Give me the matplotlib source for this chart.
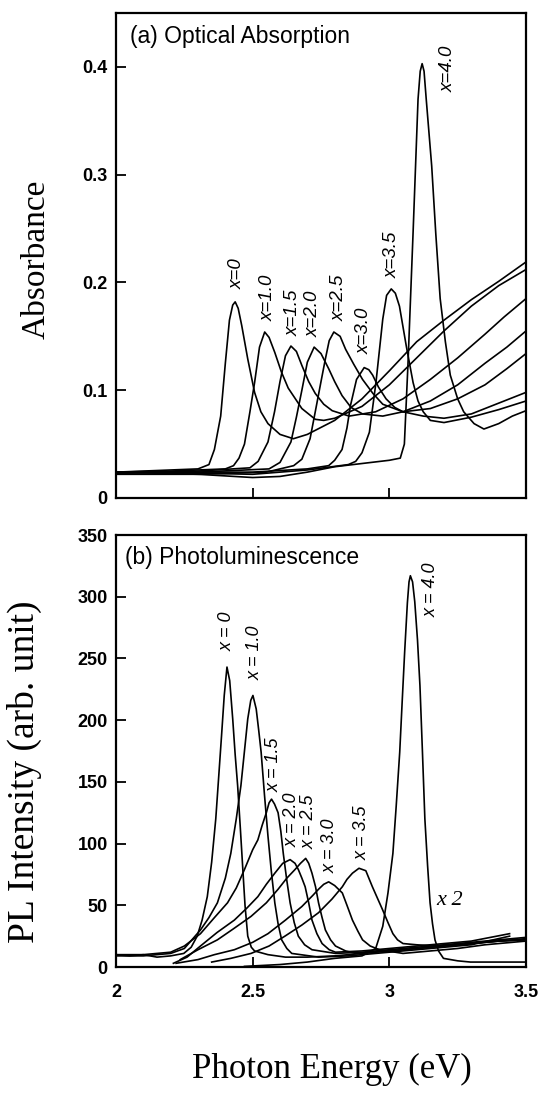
import matplotlib
matplotlib.use("Agg")
import matplotlib.pyplot as plt
from matplotlib.ticker import FuncFormatter

plt.rcParams['font.family'] = ['Liberation Sans', 'DejaVu Sans']

# ---- (a) optical absorption: (energy eV, absorbance) ----
abs_x0 = [(2.00, 0.024), (2.10, 0.025), (2.20, 0.026), (2.30, 0.027), (2.34, 0.031), (2.36, 0.045),
          (2.383, 0.076), (2.40, 0.125), (2.415, 0.165), (2.427, 0.179), (2.436, 0.182), (2.447, 0.176),
          (2.46, 0.160), (2.482, 0.129), (2.507, 0.098), (2.53, 0.080), (2.556, 0.069), (2.60, 0.059),
          (2.649, 0.055), (2.70, 0.059), (2.80, 0.072), (2.90, 0.092), (3.00, 0.118), (3.10, 0.145),
          (3.20, 0.165), (3.30, 0.184), (3.40, 0.201), (3.50, 0.219)]
abs_x10 = [(2.00, 0.024), (2.20, 0.025), (2.40, 0.027), (2.43, 0.030), (2.45, 0.037), (2.47, 0.050),
           (2.49, 0.080), (2.507, 0.107), (2.525, 0.140), (2.544, 0.154), (2.56, 0.149), (2.581, 0.135),
           (2.605, 0.117), (2.63, 0.102), (2.68, 0.083), (2.729, 0.073), (2.76, 0.072), (2.80, 0.074),
           (2.90, 0.085), (3.00, 0.105), (3.10, 0.130), (3.20, 0.155), (3.30, 0.178), (3.40, 0.197),
           (3.50, 0.212)]
abs_x15 = [(2.00, 0.023), (2.30, 0.025), (2.49, 0.028), (2.52, 0.034), (2.556, 0.052), (2.58, 0.080),
           (2.60, 0.108), (2.62, 0.132), (2.64, 0.141), (2.66, 0.136), (2.68, 0.123), (2.705, 0.108),
           (2.729, 0.097), (2.76, 0.087), (2.791, 0.081), (2.853, 0.076), (2.95, 0.080), (3.05, 0.092),
           (3.15, 0.110), (3.25, 0.130), (3.35, 0.152), (3.42, 0.168), (3.50, 0.185)]
abs_x20 = [(2.00, 0.023), (2.30, 0.024), (2.56, 0.027), (2.60, 0.033), (2.64, 0.052), (2.66, 0.075),
           (2.68, 0.100), (2.70, 0.126), (2.725, 0.140), (2.75, 0.134), (2.778, 0.120), (2.80, 0.108),
           (2.827, 0.095), (2.86, 0.084), (2.902, 0.078), (2.976, 0.076), (3.05, 0.080), (3.15, 0.090),
           (3.25, 0.105), (3.35, 0.125), (3.43, 0.140), (3.50, 0.155)]
abs_x25 = [(2.00, 0.022), (2.30, 0.022), (2.55, 0.024), (2.65, 0.030), (2.68, 0.036), (2.71, 0.055),
           (2.729, 0.080), (2.75, 0.108), (2.766, 0.129), (2.78, 0.146), (2.797, 0.154), (2.82, 0.150),
           (2.84, 0.138), (2.87, 0.124), (2.902, 0.110), (2.94, 0.097), (2.976, 0.087), (3.05, 0.080),
           (3.15, 0.083), (3.25, 0.092), (3.35, 0.105), (3.43, 0.120), (3.50, 0.134)]
abs_x30 = [(2.00, 0.024), (2.30, 0.024), (2.50, 0.024), (2.70, 0.027), (2.778, 0.030), (2.80, 0.035),
           (2.827, 0.045), (2.845, 0.065), (2.858, 0.086), (2.88, 0.110), (2.908, 0.121), (2.925, 0.119),
           (2.939, 0.114), (2.96, 0.103), (2.988, 0.092), (3.02, 0.084), (3.05, 0.080), (3.124, 0.076),
           (3.20, 0.074), (3.30, 0.078), (3.40, 0.088), (3.50, 0.098)]
abs_x35 = [(2.00, 0.024), (2.30, 0.023), (2.50, 0.022), (2.70, 0.026), (2.85, 0.031), (2.877, 0.034),
           (2.90, 0.042), (2.927, 0.061), (2.951, 0.107), (2.976, 0.166), (2.99, 0.188), (3.007, 0.194),
           (3.022, 0.190), (3.037, 0.178), (3.062, 0.141), (3.087, 0.107), (3.105, 0.090), (3.124, 0.080),
           (3.15, 0.072), (3.20, 0.070), (3.30, 0.075), (3.40, 0.082), (3.50, 0.090)]
abs_x40 = [(2.00, 0.024), (2.30, 0.022), (2.50, 0.019), (2.60, 0.020), (2.70, 0.024), (2.80, 0.029),
           (2.90, 0.032), (3.00, 0.035), (3.04, 0.037), (3.055, 0.050), (3.068, 0.123), (3.087, 0.247),
           (3.105, 0.370), (3.113, 0.396), (3.12, 0.403), (3.127, 0.396), (3.135, 0.370), (3.155, 0.308),
           (3.17, 0.245), (3.186, 0.185), (3.205, 0.145), (3.223, 0.114), (3.25, 0.092), (3.272, 0.080),
           (3.31, 0.069), (3.346, 0.064), (3.40, 0.069), (3.45, 0.076), (3.50, 0.081)]
abs_curves = [abs_x0, abs_x10, abs_x15, abs_x20, abs_x25, abs_x30, abs_x35, abs_x40]
abs_labels = ['x=0', 'x=1.0', 'x=1.5', 'x=2.0', 'x=2.5', 'x=3.0', 'x=3.5', 'x=4.0']

# ---- (b) photoluminescence: (energy eV, intensity) ----
pl_x0 = [(2.00, 10), (2.05, 9), (2.10, 10), (2.15, 8), (2.20, 9), (2.248, 11), (2.275, 16), (2.297, 25),
         (2.315, 38), (2.334, 57), (2.35, 85), (2.365, 120), (2.376, 155), (2.386, 187), (2.396, 220),
         (2.406, 243), (2.416, 232), (2.427, 201), (2.436, 172), (2.445, 147), (2.455, 112), (2.464, 79),
         (2.472, 50), (2.482, 25), (2.495, 16), (2.507, 13), (2.556, 10), (2.62, 8), (2.70, 8), (2.80, 9),
         (2.90, 11), (3.00, 13), (3.10, 15), (3.20, 17), (3.30, 19), (3.40, 21), (3.50, 22)]
pl_x10 = [(2.00, 9), (2.10, 9), (2.20, 11), (2.25, 15), (2.309, 30), (2.34, 40), (2.371, 52), (2.40, 72),
          (2.42, 92), (2.44, 120), (2.457, 147), (2.47, 175), (2.482, 201), (2.493, 216), (2.501, 220),
          (2.513, 209), (2.522, 192), (2.531, 174), (2.543, 140), (2.556, 106), (2.568, 78), (2.581, 52),
          (2.593, 35), (2.606, 22), (2.625, 15), (2.643, 11), (2.741, 8), (2.85, 9), (3.00, 12), (3.10, 14),
          (3.20, 16), (3.30, 18), (3.44, 25)]
pl_x15 = [(2.00, 10), (2.10, 10), (2.20, 12), (2.25, 17), (2.309, 27), (2.36, 40), (2.408, 52), (2.44, 64),
          (2.47, 79), (2.50, 95), (2.519, 103), (2.535, 115), (2.55, 125), (2.56, 133), (2.569, 136),
          (2.58, 132), (2.593, 125), (2.603, 110), (2.612, 92), (2.625, 70), (2.637, 52), (2.652, 36),
          (2.667, 25), (2.69, 18), (2.717, 14), (2.803, 11), (2.90, 12), (3.00, 14), (3.10, 16), (3.20, 18),
          (3.30, 20), (3.40, 22), (3.50, 24)]
pl_x20 = [(2.21, 3), (2.26, 8), (2.309, 17), (2.37, 28), (2.433, 38), (2.48, 48), (2.519, 57), (2.55, 67),
          (2.581, 76), (2.61, 84), (2.637, 87), (2.655, 84), (2.667, 79), (2.68, 72), (2.692, 65),
          (2.705, 52), (2.717, 38), (2.735, 27), (2.754, 19), (2.78, 14), (2.803, 12), (2.90, 13),
          (3.00, 15), (3.10, 17), (3.20, 19), (3.30, 21), (3.44, 27)]
pl_x25 = [(2.235, 6), (2.30, 14), (2.371, 22), (2.43, 31), (2.494, 41), (2.55, 52), (2.593, 63),
          (2.625, 72), (2.655, 79), (2.675, 84), (2.694, 88), (2.705, 84), (2.717, 76), (2.73, 65),
          (2.741, 52), (2.754, 40), (2.766, 30), (2.785, 22), (2.803, 17), (2.84, 13), (2.877, 11),
          (3.00, 13), (3.10, 15), (3.20, 17), (3.30, 19), (3.40, 21), (3.50, 23)]
pl_x30 = [(2.22, 3), (2.30, 6), (2.36, 10), (2.433, 14), (2.50, 20), (2.556, 27), (2.62, 38), (2.68, 49),
          (2.72, 58), (2.741, 63), (2.76, 67), (2.778, 69), (2.80, 66), (2.828, 60), (2.845, 50),
          (2.865, 38), (2.885, 29), (2.902, 22), (2.93, 17), (2.964, 14), (3.05, 11), (3.15, 13),
          (3.25, 15), (3.35, 18), (3.50, 21)]
pl_x35 = [(2.35, 4), (2.42, 7), (2.494, 11), (2.56, 17), (2.618, 25), (2.68, 34), (2.741, 44), (2.79, 55),
          (2.828, 65), (2.845, 71), (2.865, 76), (2.889, 80), (2.914, 78), (2.925, 72), (2.938, 65),
          (2.956, 56), (2.976, 46), (2.995, 36), (3.013, 27), (3.03, 22), (3.05, 19), (3.10, 18),
          (3.17, 17), (3.30, 19), (3.40, 21), (3.50, 22)]
pl_x40 = [(2.47, 0.5), (2.60, 2), (2.70, 4), (2.80, 7), (2.90, 9), (2.95, 15), (2.976, 33), (2.995, 60),
          (3.013, 92), (3.025, 130), (3.038, 174), (3.047, 215), (3.056, 255), (3.066, 295), (3.072, 312),
          (3.077, 317), (3.085, 312), (3.093, 296), (3.103, 265), (3.112, 228), (3.121, 175), (3.13, 120),
          (3.14, 82), (3.149, 52), (3.158, 35), (3.167, 22), (3.18, 13), (3.198, 7), (3.25, 5), (3.297, 4),
          (3.40, 4), (3.50, 4)]
pl_curves = [pl_x0, pl_x10, pl_x15, pl_x20, pl_x25, pl_x30, pl_x35, pl_x40]
pl_labels = ['x = 0', 'x = 1.0', 'x = 1.5', 'x = 2.0', 'x = 2.5', 'x = 3.0', 'x = 3.5', 'x = 4.0']

# where the rotated labels sit (data coords)
abs_label_pos = [(2.445, 0.208), (2.556, 0.186), (2.649, 0.172), (2.723, 0.171),
                 (2.815, 0.186), (2.908, 0.155), (3.010, 0.226), (3.217, 0.398)]
pl_label_pos = [(2.406, 272), (2.509, 255), (2.578, 164), (2.643, 119),
                (2.706, 118), (2.785, 98), (2.899, 109), (3.155, 306)]

W, H = 541, 1099
fig = plt.figure(figsize=(W / 100, H / 100), dpi=100)
ax1 = fig.add_axes([116 / W, 1 - 498 / H, 410 / W, 485 / H])
ax2 = fig.add_axes([116 / W, 1 - 967 / H, 410 / W, 432 / H])

for c in abs_curves:
    ax1.plot([p[0] for p in c], [p[1] for p in c], color='black', lw=1.2)
for c in pl_curves:
    ax2.plot([p[0] for p in c], [p[1] for p in c], color='black', lw=1.2)

for lab, (x, y) in zip(abs_labels, abs_label_pos):
    ax1.text(x, y, lab, rotation=90, ha='center', va='center', style='italic', fontsize=13.5)
for lab, (x, y) in zip(pl_labels, pl_label_pos):
    ax2.text(x, y, lab, rotation=90, ha='center', va='center', style='italic', fontsize=13)
ax2.text(3.22, 54, 'x 2', family='Liberation Serif', style='italic', fontsize=16, ha='center', va='center')

ax1.set_xlim(2, 3.5)
ax1.set_ylim(0, 0.45)
ax2.set_xlim(2, 3.5)
ax2.set_ylim(0, 350)

ax1.set_xticks([2.5, 3.0])
ax1.set_yticks([0, 0.1, 0.2, 0.3, 0.4])
ax1.yaxis.set_major_formatter(FuncFormatter(lambda v, p: '0' if v == 0 else '%.1f' % v))
ax2.set_xticks([2, 2.5, 3, 3.5])
ax2.xaxis.set_major_formatter(FuncFormatter(lambda v, p: '%g' % v))
ax2.set_yticks(range(0, 351, 50))

for ax in (ax1, ax2):
    ax.tick_params(direction='in', length=7, width=1.3, top=False, right=False, labelsize=13, pad=6)
    for s in ax.spines.values():
        s.set_linewidth(1.6)
    for t in ax.get_xticklabels() + ax.get_yticklabels():
        t.set_fontweight('bold')
ax1.tick_params(axis='x', labelbottom=False)
ax2.tick_params(axis='x', pad=12)

ax1.text(0.034, 0.951, '(a) Optical Absorption', transform=ax1.transAxes, fontsize=16.5, va='center')
ax2.text(0.022, 0.949, '(b) Photoluminescence', transform=ax2.transAxes, fontsize=16.5, va='center')

ax1.set_ylabel('Absorbance', family='Liberation Serif', fontsize=24)
ax1.yaxis.set_label_coords(-0.158, 0.492)
ax2.set_ylabel('PL Intensity (arb. unit)', family='Liberation Serif', fontsize=27)
ax2.yaxis.set_label_coords(-0.181, 0.451)
ax2.set_xlabel('Photon Energy (eV)', family='Liberation Serif', fontsize=25)
ax2.xaxis.set_label_coords(0.527, -0.2)

fig.savefig('out.png', dpi=100)
